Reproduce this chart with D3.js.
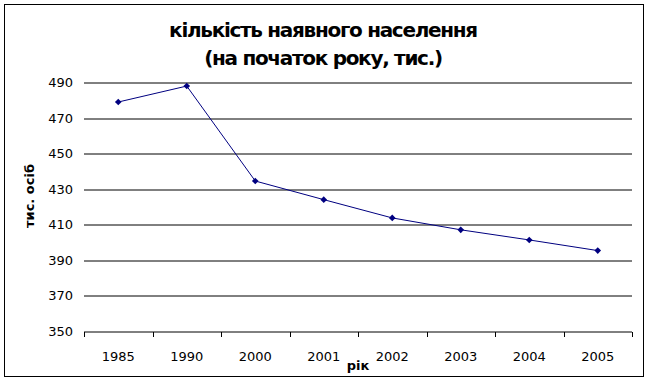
<!DOCTYPE html>
<html>
<head>
<meta charset="utf-8">
<script src="https://cdn.jsdelivr.net/npm/d3@7"></script>
<style>
  body { margin: 0; background: #fff; }
  svg { display: block; }
</style>
</head>
<body>
<svg class="viz" width="647" height="381"></svg>
<script>
// Data
var years = ["1985", "1990", "2000", "2001", "2002", "2003", "2004", "2005"];
var population = [479, 488, 434.5, 424, 413.7, 407, 401.3, 395.3];
var yTicks = [350, 370, 390, 410, 430, 450, 470, 490];

var titleLines = ["кількість наявного населення", "(на початок року, тис.)"];

var svg = d3.select(".viz"),
    margin = {top: 82.5, right: 15, bottom: 50, left: 84},
    width = 632 - margin.left,
    height = 331 - margin.top;

// outer frame
svg.append("rect")
    .attr("x", 4.5).attr("y", 4.5)
    .attr("width", 639).attr("height", 372)
    .attr("fill", "#fff")
    .attr("stroke", "#000")
    .attr("stroke-width", 1);

var x = d3.scaleBand()
    .domain(years)
    .range([0, width]);

var y = d3.scaleLinear()
    .domain([350, 490])
    .range([height, 0]);

var g = svg.append("g")
    .attr("transform", "translate(" + margin.left + "," + margin.top + ")");

// gridlines
g.append("g")
    .selectAll("line")
    .data(yTicks.slice(1))
    .enter().append("line")
      .attr("x1", 0).attr("x2", width)
      .attr("y1", function(d) { return Math.round(y(d)) + 0.5; })
      .attr("y2", function(d) { return Math.round(y(d)) + 0.5; })
      .attr("stroke", "#000")
      .attr("stroke-width", 1);

// y labels
g.append("g")
    .selectAll("text")
    .data(yTicks)
    .enter().append("text")
      .attr("x", -11)
      .attr("y", function(d) { return y(d); })
      .attr("dy", "0.36em")
      .attr("text-anchor", "end")
      .attr("font-family", "DejaVu Sans, sans-serif")
      .attr("font-size", "13px")
      .attr("fill", "#000")
      .text(function(d) { return d; });

// x axis with ticks between categories
var xAxis = g.append("g")
    .attr("transform", "translate(0," + (Math.round(height) + 0.5) + ")");

xAxis.append("line")
    .attr("x1", 0).attr("x2", width)
    .attr("stroke", "#000");

xAxis.selectAll("line.tick")
    .data(d3.range(years.length + 1))
    .enter().append("line")
      .attr("class", "tick")
      .attr("x1", function(i) { return Math.round(i * x.step()) + 0.5; })
      .attr("x2", function(i) { return Math.round(i * x.step()) + 0.5; })
      .attr("y1", 0).attr("y2", 5)
      .attr("stroke", "#000");

xAxis.selectAll("text")
    .data(years)
    .enter().append("text")
      .attr("x", function(d) { return x(d) + x.bandwidth() / 2; })
      .attr("y", 29)
      .attr("text-anchor", "middle")
      .attr("font-family", "DejaVu Sans, sans-serif")
      .attr("font-size", "13px")
      .attr("fill", "#000")
      .text(function(d) { return d; });

// line
var line = d3.line()
    .x(function(d, i) { return x(years[i]) + x.bandwidth() / 2; })
    .y(function(d) { return y(d); });

g.append("path")
    .datum(population)
    .attr("d", line)
    .attr("fill", "none")
    .attr("stroke", "#000080")
    .attr("stroke-width", 1);

// diamond markers (rotated squares)
g.selectAll(".dot")
    .data(population)
    .enter().append("path")
      .attr("class", "dot")
      .attr("d", d3.symbol().type(d3.symbolSquare).size(22))
      .attr("transform", function(d, i) {
        return "translate(" + (x(years[i]) + x.bandwidth() / 2) + "," + y(d) + ") rotate(45)";
      })
      .attr("fill", "#000080");

// titles
svg.append("g")
    .selectAll("text")
    .data(titleLines)
    .enter().append("text")
      .attr("x", 323)
      .attr("y", function(d, i) { return 37 + i * 28; })
      .attr("text-anchor", "middle")
      .attr("font-family", "DejaVu Sans, sans-serif")
      .attr("font-weight", "bold")
      .attr("font-size", "20px")
      .attr("letter-spacing", "-1.3px")
      .attr("fill", "#000")
      .text(function(d) { return d; });

svg.append("text")
    .attr("x", 358)
    .attr("y", 370)
    .attr("text-anchor", "middle")
    .attr("font-family", "DejaVu Sans, sans-serif")
    .attr("font-weight", "bold")
    .attr("font-size", "13px")
    .text("рік");

svg.append("text")
    .attr("transform", "translate(34,196) rotate(-90)")
    .attr("text-anchor", "middle")
    .attr("font-family", "DejaVu Sans, sans-serif")
    .attr("font-weight", "bold")
    .attr("font-size", "13px")
    .text("тис. осіб");
</script>
</body>
</html>
